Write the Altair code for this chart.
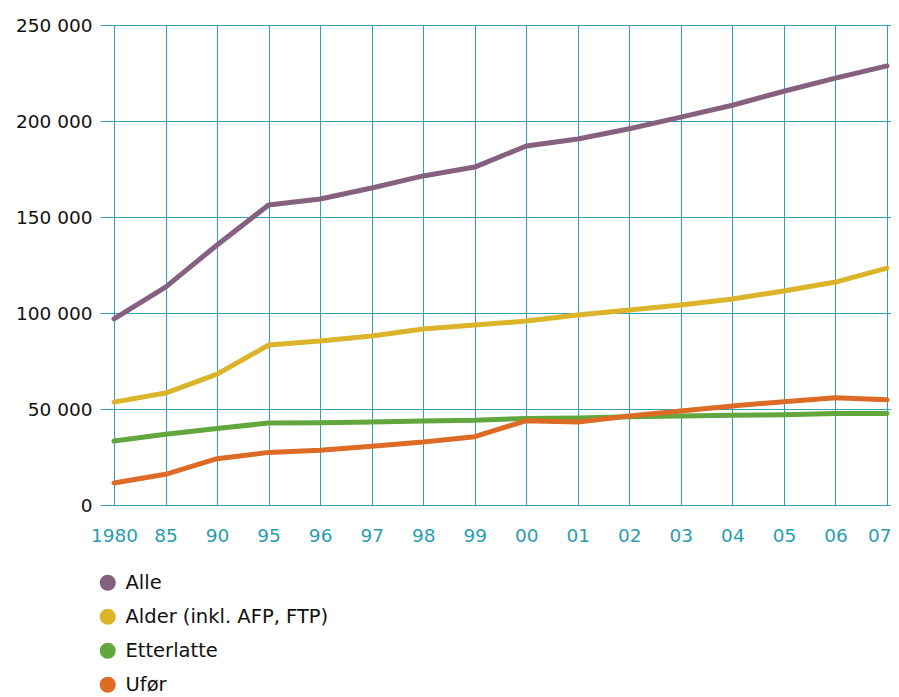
import json
import altair as alt
import pandas as pd

years = ["1980", "85", "90", "95", "96", "97", "98", "99", "00", "01", "02", "03", "04", "05", "06", "07"]
alle = [97000, 113500, 135400, 156300, 159400, 165100, 171400, 176000, 187000, 190600, 196000, 202000, 208200, 215500, 222300, 228700]
alder = [53600, 58300, 68200, 83300, 85400, 88000, 91700, 93700, 95800, 99000, 101600, 104200, 107300, 111500, 116100, 123400]
etterlatte = [33300, 36800, 39800, 42700, 42800, 43200, 43700, 44100, 45100, 45300, 46000, 46400, 46700, 47000, 47600, 47700]
ufor = [11500, 16000, 24100, 27400, 28500, 30600, 32800, 35600, 43900, 43200, 46400, 49000, 51600, 53800, 55900, 54800]
series = ["Alle", "Alder (inkl. AFP, FTP)", "Etterlatte", "Ufør"]
line_colors = ["#86607f", "#dbb42a", "#61a73e", "#de6b25"]
y_ticks = [0, 50000, 100000, 150000, 200000, 250000]

rows = []
for name, vals in zip(series, [alle, alder, etterlatte, ufor]):
    for i, (yr, v) in enumerate(zip(years, vals)):
        rows.append({"idx": i, "year": yr, "series": name, "value": v, "order": series.index(name)})
df = pd.DataFrame(rows)

teal = "#33a0b3"
font = "DejaVu Sans"
last = len(years) - 1

chart = alt.Chart(df).mark_line(strokeWidth=5, strokeCap="round", strokeJoin="round").encode(
    x=alt.X("idx:Q",
            scale=alt.Scale(domain=[-0.2717, 15.078], nice=False, zero=False),
            axis=alt.Axis(values=list(range(len(years))),
                          labelExpr=json.dumps(years) + "[datum.value]",
                          labelAlign=alt.condition(f"datum.value == {last}", alt.value("right"), alt.value("center")),
                          labelOffset=alt.condition(f"datum.value == {last}", alt.value(4), alt.value(0)),
                          title=None, grid=True, gridColor=teal, gridWidth=1,
                          domain=False, ticks=False, labelPadding=21,
                          labelColor="#2a9db0", labelFontSize=18.5, labelFont=font)),
    y=alt.Y("value:Q",
            scale=alt.Scale(domain=[0, 250000], nice=False),
            axis=alt.Axis(values=y_ticks,
                          labelExpr="datum.value == 0 ? '0' : floor(datum.value / 1000) + ' 000'",
                          title=None, grid=True, gridColor=teal, gridWidth=1,
                          domain=False, ticks=False, labelPadding=8,
                          labelColor="#111111", labelFontSize=18.5, labelFont=font)),
    color=alt.Color("series:N",
                    scale=alt.Scale(domain=series, range=line_colors),
                    legend=alt.Legend(title=None, orient="none", legendX=-2, legendY=548,
                                      direction="vertical", symbolType="circle",
                                      symbolSize=64, symbolStrokeWidth=8,
                                      rowPadding=-7, labelOffset=8, labelLimit=0,
                                      labelFontSize=19.5, labelFont=font, labelColor="#111111")),
    order=alt.Order("order:Q"),
).properties(
    width=791,
    height=480,
    autosize=alt.AutoSizeParams(type="none"),
    padding={"left": 92, "top": 17, "right": 0, "bottom": 192},
).configure_view(stroke=None)

chart.save("out.html", embed_options={"renderer": "svg", "actions": False})
